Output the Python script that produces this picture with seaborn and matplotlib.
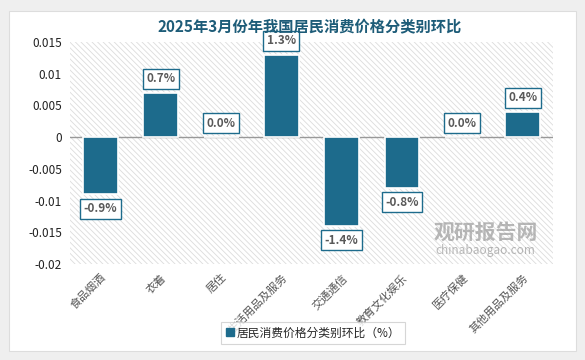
import matplotlib
matplotlib.use("Agg")
import matplotlib.pyplot as plt
import seaborn as sns
import pandas as pd
from matplotlib.patches import FancyBboxPatch, Rectangle
from matplotlib.lines import Line2D

categories = ["食品烟酒", "衣着", "居住", "生活用品及服务", "交通通信", "教育文化娱乐", "医疗保健", "其他用品及服务"]
values = [-0.009, 0.007, 0.0, 0.013, -0.014, -0.008, 0.0, 0.004]
labels = ["-0.9%", "0.7%", "0.0%", "1.3%", "-1.4%", "-0.8%", "0.0%", "0.4%"]
yticks = [0.015, 0.01, 0.005, 0, -0.005, -0.01, -0.015, -0.02]
ytick_labels = ["0.015", "0.01", "0.005", "0", "-0.005", "-0.01", "-0.015", "-0.02"]
title = "2025年3月份年我国居民消费价格分类别环比"
legend_label = "居民消费价格分类别环比（%）"

sns.set_style("white")
plt.rcParams["font.family"] = ["Noto Sans CJK SC", "DejaVu Sans"]
plt.rcParams["hatch.linewidth"] = 0.6

bar_color = "#1d6b8c"
df = pd.DataFrame({"cat": categories, "val": values})

fig = plt.figure(figsize=(5.85, 3.6), dpi=100)
fig.patch.set_facecolor("#efefef")
card = FancyBboxPatch((0.016, 0.025), 0.968, 0.945, boxstyle="square,pad=0",
                      transform=fig.transFigure, facecolor="white",
                      edgecolor="#dddddd", linewidth=0.8, zorder=-10)
fig.patches.append(card)

ax = fig.add_axes([0.120, 0.267, 0.825, 0.616])
ax.set_facecolor("none")
sns.barplot(data=df, x="cat", y="val", color=bar_color, width=0.58,
            edgecolor="white", linewidth=1.2, saturation=1, ax=ax, zorder=3)

ax.set_ylim(-0.02, 0.015)
ax.set_xlim(-0.5, len(categories) - 0.5)
ax.add_patch(Rectangle((-0.5, -0.02), len(categories), 0.035, facecolor="white",
                       edgecolor="#dcdcdc", hatch="\\\\\\\\\\\\", linewidth=0, zorder=0))
ax.axhline(0, color="#999999", linewidth=1.0, zorder=2)

for i, (v, lab) in enumerate(zip(values, labels)):
    off = 0.0022 if v >= 0 else -0.0023
    ax.text(i, v + off, lab, ha="center", va="center", fontsize=8.5,
            fontweight="bold", color="#595959", zorder=5,
            bbox=dict(boxstyle="square,pad=0.3", facecolor="white",
                      edgecolor=bar_color, linewidth=1.0))

ax.set_yticks(yticks)
ax.set_yticklabels(ytick_labels, fontsize=8.5, color="#222222")
ax.set_xticks(range(len(categories)))
ax.set_xticklabels(categories, rotation=45, ha="right", rotation_mode="anchor",
                   fontsize=8, color="#555555")
ax.tick_params(axis="both", length=0, pad=6)
ax.set_xlabel("")
ax.set_ylabel("")
for s in ax.spines.values():
    s.set_visible(False)

fig.text(0.53, 0.925, title, ha="center", va="center", fontsize=11,
         fontweight="bold", color="#1d5c78")

# watermark
fig.text(0.83, 0.355, "观研报告网", ha="center", va="center", fontsize=15,
         fontweight="bold", color="#9a9a9a", alpha=0.7, zorder=6)
fig.text(0.83, 0.305, "chinabaogao.com", ha="center", va="center", fontsize=8.5,
         color="#9a9a9a", alpha=0.7, zorder=6)

handle = Line2D([], [], marker="s", linestyle="none", markersize=6,
                markerfacecolor=bar_color, markeredgecolor=bar_color)
leg = fig.legend([handle], [legend_label], loc="center", bbox_to_anchor=(0.535, 0.075),
                 frameon=True, fancybox=False, fontsize=8.5, handletextpad=0.2,
                 borderpad=0.4, handlelength=0.8)
leg.get_frame().set_edgecolor("#cccccc")
leg.get_frame().set_linewidth(0.8)

fig.savefig("out.png", dpi=100, facecolor=fig.get_facecolor())
